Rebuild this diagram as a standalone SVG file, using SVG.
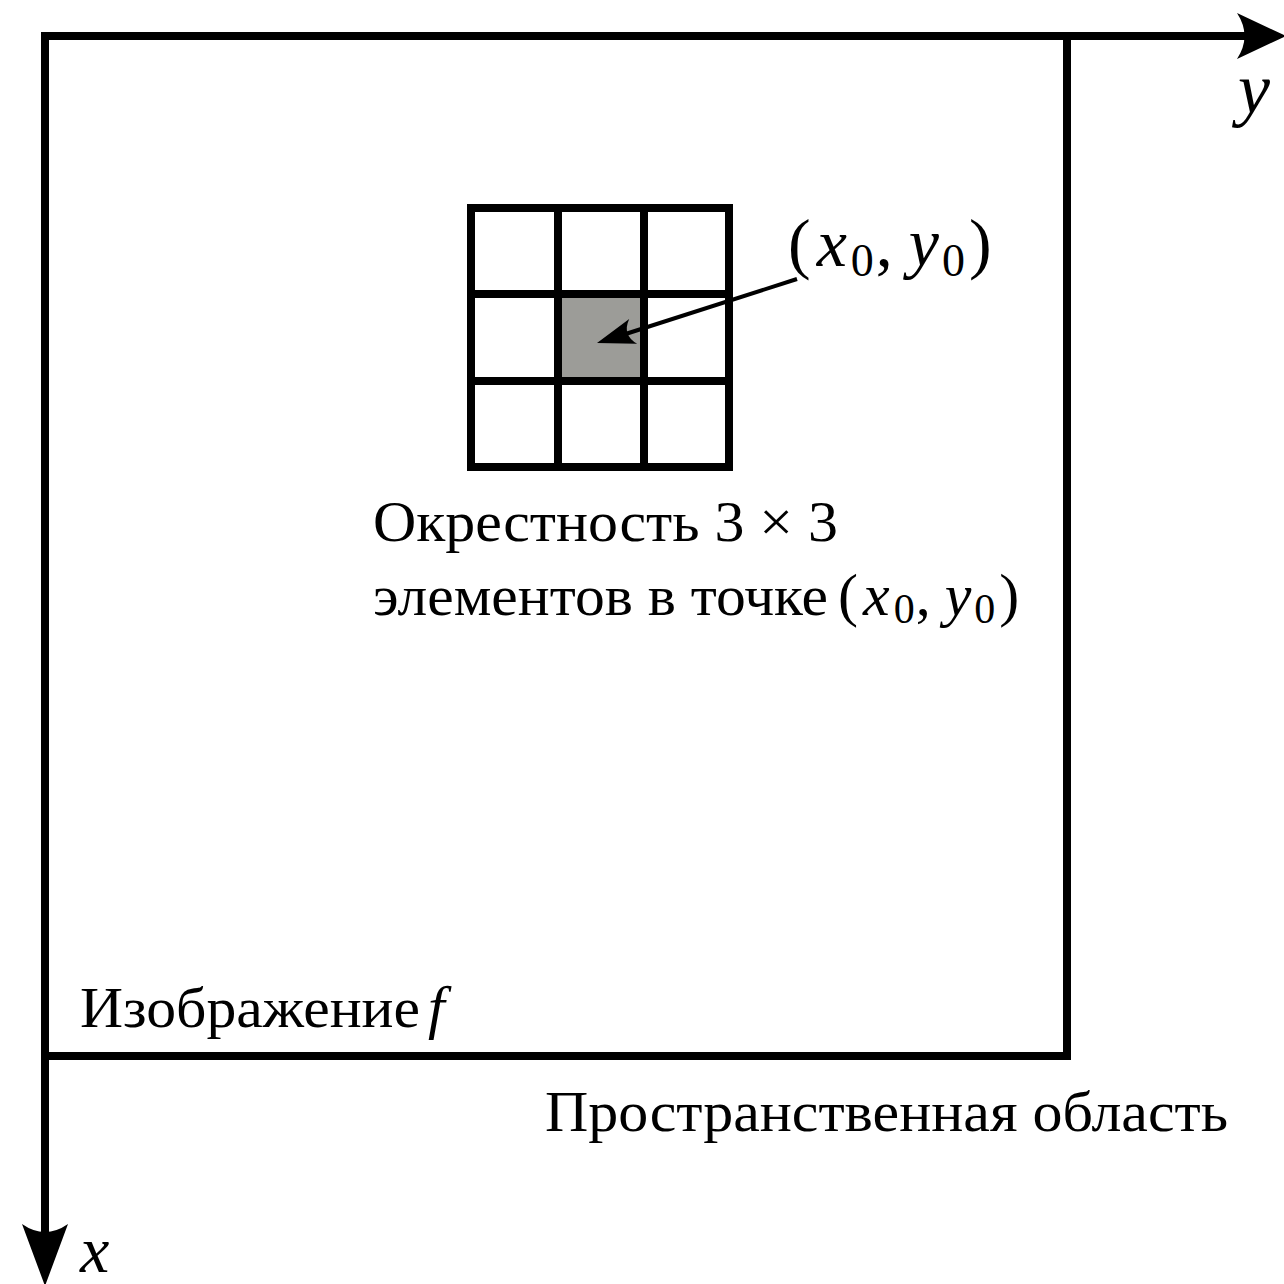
<svg xmlns="http://www.w3.org/2000/svg" width="1284" height="1284" viewBox="0 0 1284 1284">
<style>
.ln{stroke:#000;fill:none;stroke-width:8;stroke-linecap:square}
.g{stroke:#000;stroke-width:8;fill:none;stroke-linecap:square}
.t{font-family:"Liberation Serif","Times New Roman",serif;fill:#000}
.it{font-style:italic}
</style>
<rect width="1284" height="1284" fill="#fff"/>
<g id="grid">
<rect x="558" y="294" width="86" height="87" fill="#9c9c98"/>
<rect class="g" x="471" y="208" width="258" height="259"/>
<path class="g" d="M558,208 V467 M644,208 V467 M471,294 H729 M471,381 H729"/>
</g>
<g id="connectors">
<path class="ln" d="M45,36 H1245"/>
<path class="ln" d="M45,36 V1230"/>
<path class="ln" d="M1067,36 V1056 H45"/>
<path d="M1286,36 L1237,13 Q1252,36 1237,59 Z" fill="#000"/>
<path d="M45,1286 L22,1224 Q45,1240 68,1224 Z" fill="#000"/>
<line x1="797" y1="279" x2="624" y2="334.5" stroke="#000" stroke-width="4"/>
<path d="M597,343 L629.2,319 Q621.8,335.1 637.2,343.8 Z" fill="#000"/>
</g>
<g id="labels">
<text class="t" x="788" y="266" font-size="68">(<tspan class="it" dx="6">x</tspan><tspan font-size="46" dx="4" dy="10">0</tspan><tspan dx="2" dy="-10">,</tspan><tspan class="it" dx="16">y</tspan><tspan font-size="46" dx="3" dy="10">0</tspan><tspan dx="4" dy="-10">)</tspan></text>
<text class="t" x="373" y="541" font-size="56" textLength="465" lengthAdjust="spacingAndGlyphs">Окрестность 3 × 3</text>
<text class="t" x="373" y="615" font-size="56" textLength="455" lengthAdjust="spacingAndGlyphs">элементов в точке</text>
<text class="t" x="838" y="615" font-size="60">(<tspan class="it" dx="5">x</tspan><tspan font-size="42" dx="4" dy="8">0</tspan><tspan dx="1" dy="-8">,</tspan><tspan class="it" dx="14">y</tspan><tspan font-size="42" dx="3" dy="8">0</tspan><tspan dx="4" dy="-8">)</tspan></text>
<text class="t" x="80" y="1027" font-size="56" textLength="340" lengthAdjust="spacingAndGlyphs">Изображение</text>
<text class="t it" x="428" y="1027" font-size="60">f</text>
<text class="t" x="545" y="1131" font-size="56" textLength="683" lengthAdjust="spacingAndGlyphs">Пространственная область</text>
<text class="t it" x="1238" y="113" font-size="72">y</text>
<text class="t it" x="80" y="1272" font-size="66">x</text>
</g>
</svg>
